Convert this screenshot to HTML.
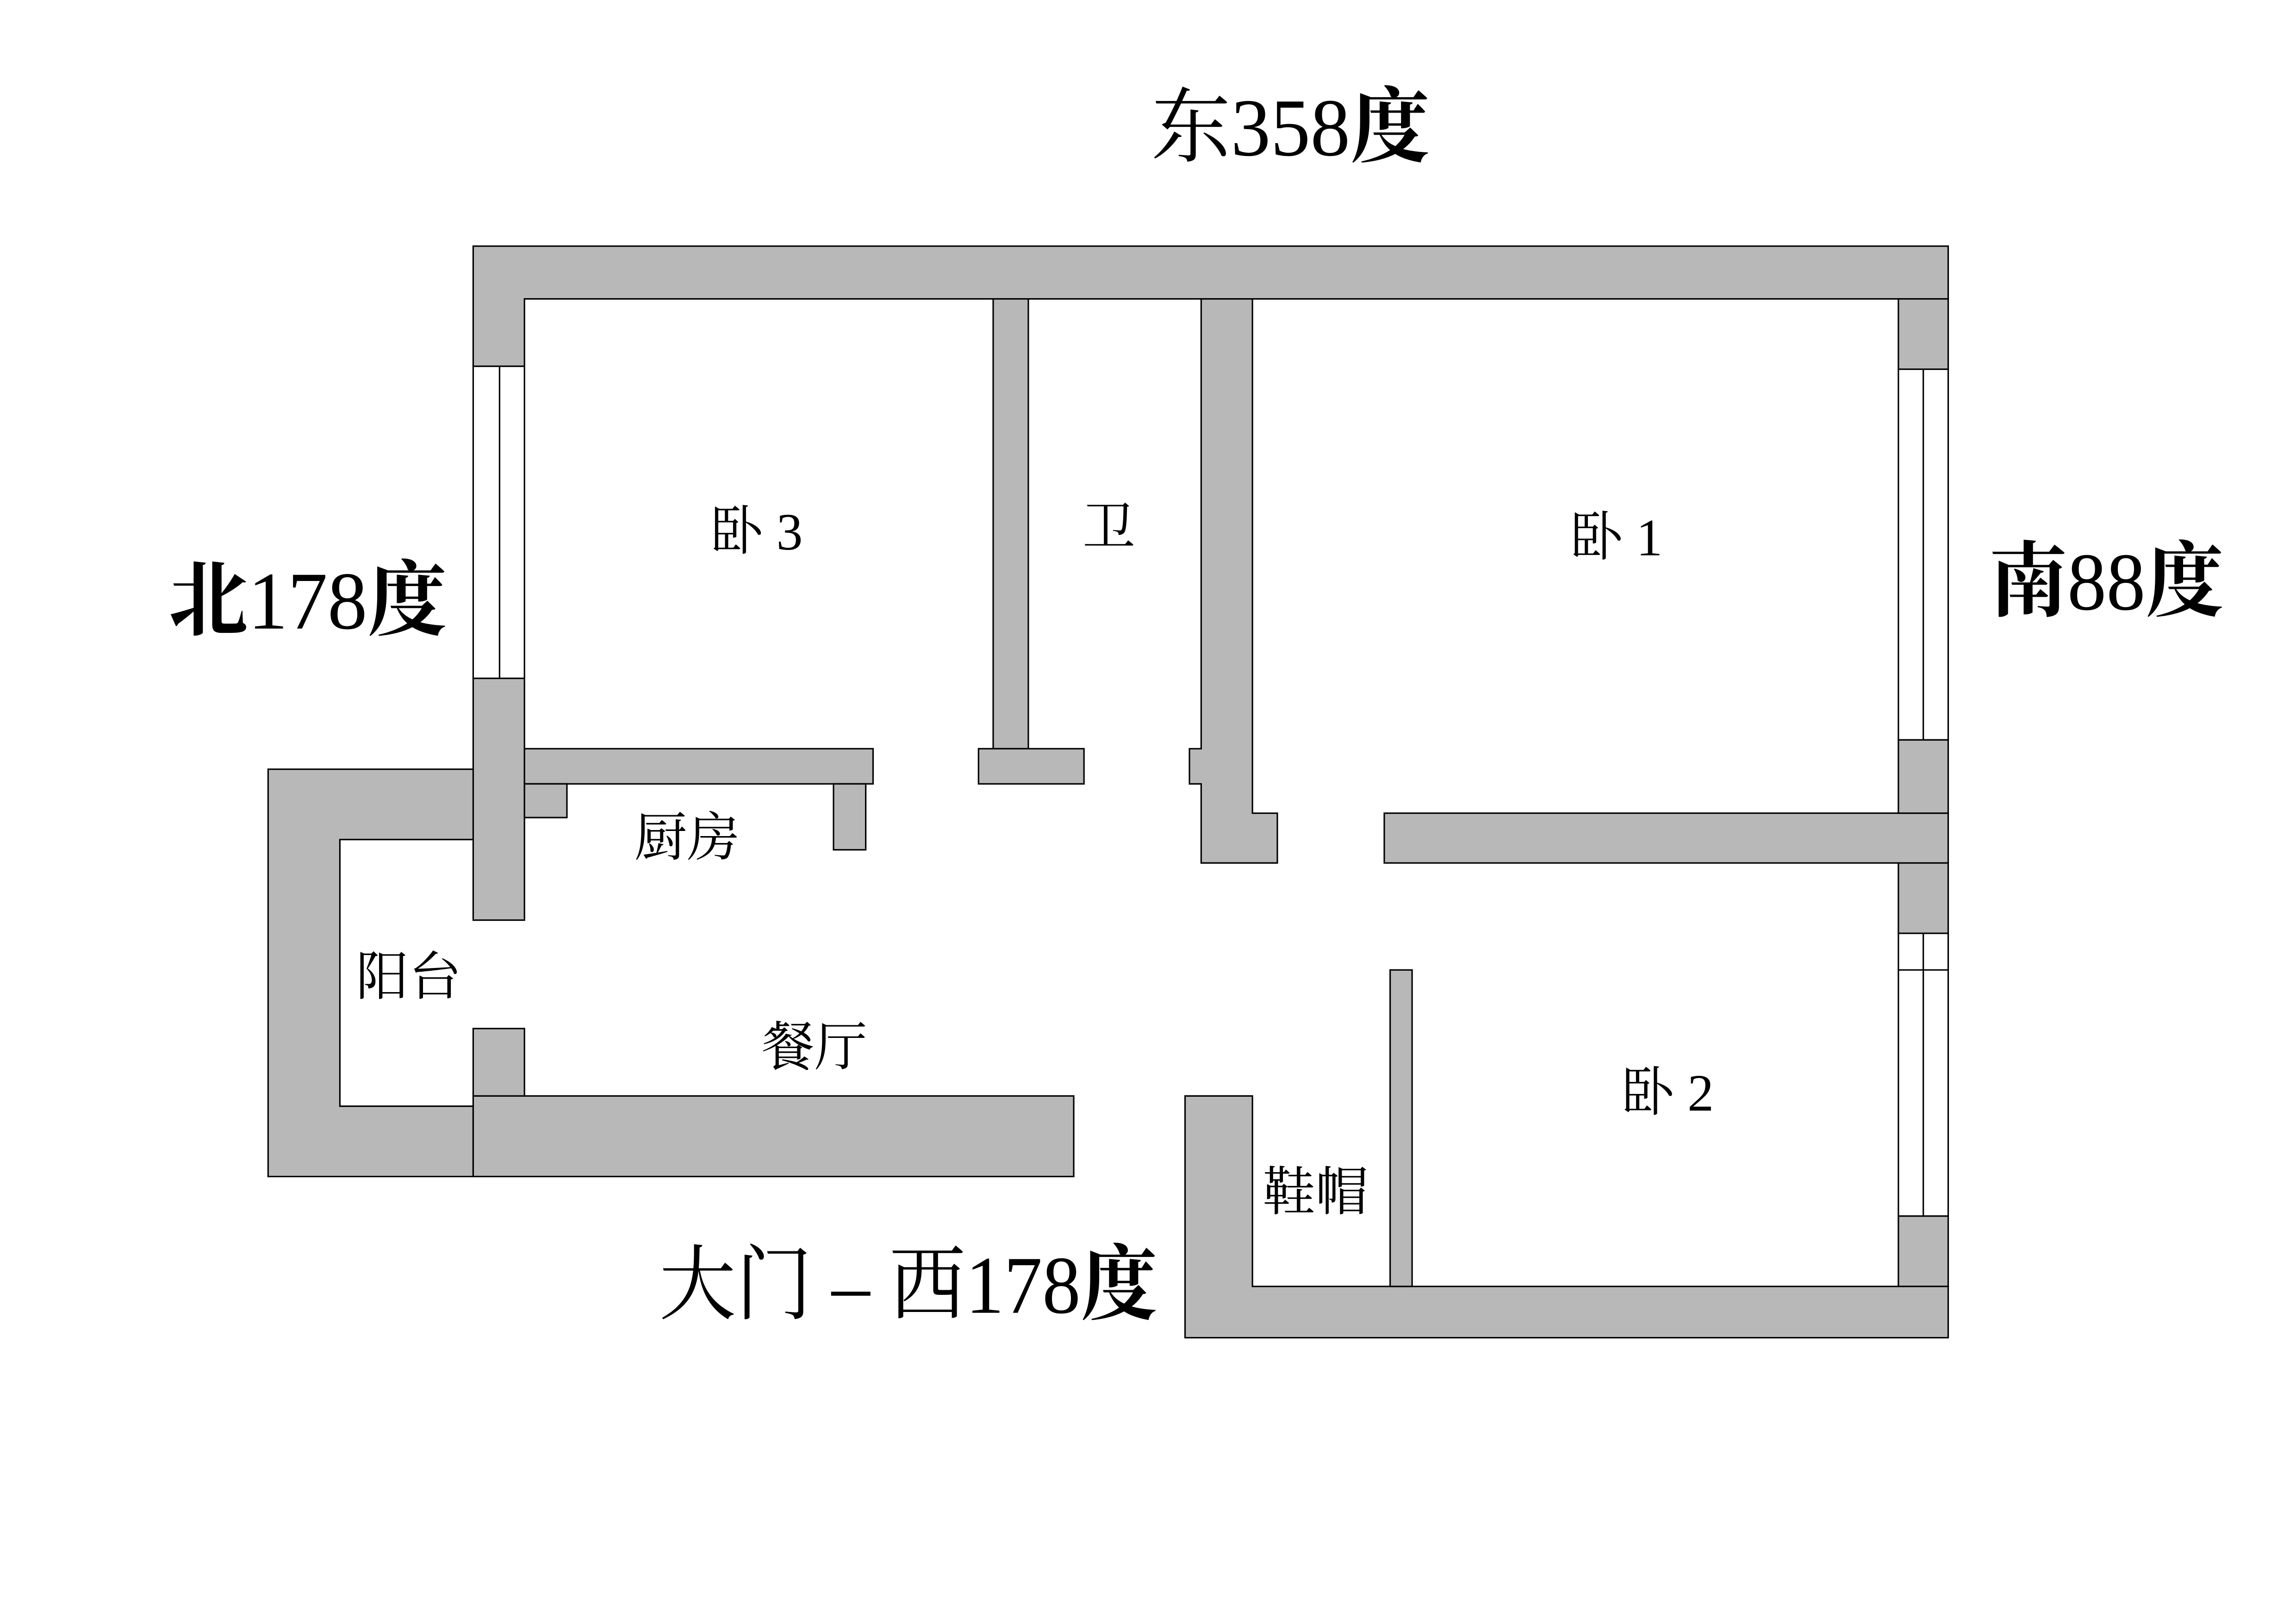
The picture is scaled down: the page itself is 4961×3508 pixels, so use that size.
<!DOCTYPE html>
<html><head><meta charset="utf-8"><style>
html,body{margin:0;padding:0;background:#fff;}
svg{display:block;}
text{font-family:"Liberation Serif","Noto Serif CJK SC",serif;fill:#000;}
</style></head><body>
<svg width="4961" height="3508" viewBox="0 0 1567.4 1108.4" xmlns="http://www.w3.org/2000/svg">
<rect x="0" y="0" width="1567.4" height="1108.4" fill="#fff"/>
<g fill="#b8b8b8" stroke="#000" stroke-width="1">
<polygon points="323,168 1330,168 1330,204 358,204 358,250 323,250"/>
<rect x="323" y="250" width="35" height="213" fill="#fff"/>
<line x1="341" y1="250" x2="341" y2="463"/>
<rect x="323" y="463" width="35" height="165"/>
<rect x="358" y="511" width="238" height="24"/>
<rect x="358" y="535" width="29" height="23"/>
<rect x="569" y="535" width="22" height="45"/>
<polygon points="183,525 323,525 323,573 232,573 232,755 323,755 323,803 183,803"/>
<rect x="323" y="748" width="410" height="55"/>
<rect x="323" y="702" width="35" height="46"/>
<rect x="678" y="204" width="24" height="307"/>
<rect x="668" y="511" width="72" height="24"/>
<polygon points="820,204 855,204 855,555 872,555 872,589 820,589 820,535 812,535 812,511 820,511"/>
<rect x="945" y="555" width="385" height="34"/>
<rect x="1296" y="204" width="34" height="48"/>
<rect x="1296" y="252" width="34" height="253" fill="#fff"/>
<line x1="1313" y1="252" x2="1313" y2="505"/>
<rect x="1296" y="505" width="34" height="50"/>
<rect x="1296" y="589" width="34" height="48"/>
<rect x="1296" y="637" width="34" height="193" fill="#fff"/>
<line x1="1313" y1="637" x2="1313" y2="830"/>
<line x1="1296" y1="662" x2="1330" y2="662"/>
<rect x="1296" y="830" width="34" height="48"/>
<polygon points="809,748 855,748 855,878 1330,878 1330,913 809,913"/>
<rect x="949" y="662" width="15" height="216"/>
</g>
<g>
<text x="786" y="106" font-size="56" textLength="190" lengthAdjust="spacingAndGlyphs">东358<tspan font-weight="bold">度</tspan></text>
<text x="115" y="429" font-size="56" textLength="190" lengthAdjust="spacingAndGlyphs"><tspan font-weight="bold">北</tspan>178<tspan font-weight="bold">度</tspan></text>
<text x="1358" y="416" font-size="56" textLength="160" lengthAdjust="spacingAndGlyphs"><tspan font-weight="bold">南</tspan>88<tspan font-weight="bold">度</tspan></text>
<text x="450" y="896" font-size="56" textLength="340" lengthAdjust="spacingAndGlyphs">大门 – 西178<tspan font-weight="bold">度</tspan></text>
<text x="485" y="375" font-size="36">卧 3</text>
<text x="739" y="372" font-size="36">卫</text>
<text x="1072" y="379" font-size="36">卧 1</text>
<text x="433" y="584" font-size="36">厨房</text>
<text x="243" y="679" font-size="36">阳台</text>
<text x="520" y="727" font-size="36">餐厅</text>
<text x="1107" y="758" font-size="36">卧 2</text>
<text x="862" y="826" font-size="36">鞋帽</text>
</g>
</svg>
</body></html>
